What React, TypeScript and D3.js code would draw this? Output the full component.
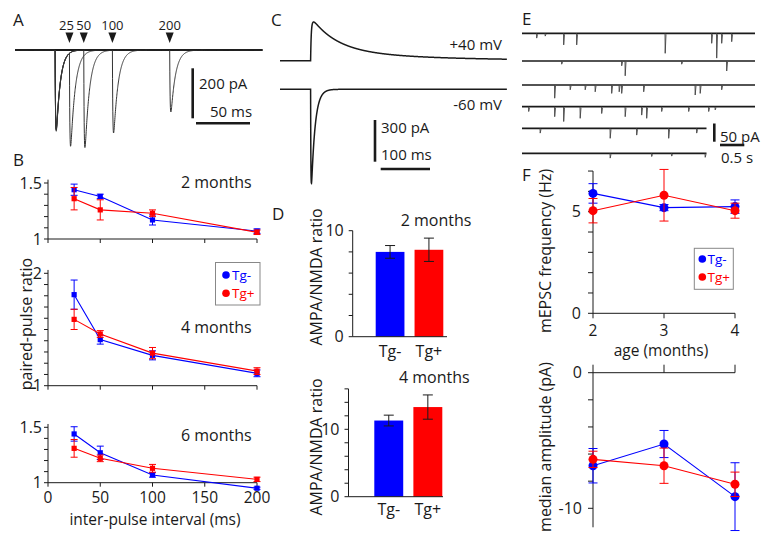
import React, { useEffect } from 'react';
import * as d3 from 'd3';

const FONT = '"Open Sans", "Noto Sans", sans-serif';
const BLUE = '#0000ff';
const RED = '#ff0000';
const INK = '#1a1a1a';

// ---------- B: paired-pulse ratio ----------
const intervals = [25, 50, 100, 200];
const intervalTicks = [0, 50, 100, 150, 200];
const ppr2Neg = [1.44, 1.38, 1.17, 1.07];
const ppr2NegErr = [0.05, 0.02, 0.045, 0.02];
const ppr2Pos = [1.36, 1.26, 1.23, 1.06];
const ppr2PosErr = [0.1, 0.09, 0.03, 0.02];
const ppr4Neg = [1.81, 1.41, 1.27, 1.11];
const ppr4NegErr = [0.13, 0.04, 0.04, 0.03];
const ppr4Pos = [1.59, 1.46, 1.29, 1.13];
const ppr4PosErr = [0.09, 0.03, 0.05, 0.03];
const ppr6Neg = [1.44, 1.27, 1.07, 0.95];
const ppr6NegErr = [0.065, 0.06, 0.02, 0.01];
const ppr6Pos = [1.31, 1.22, 1.13, 1.03];
const ppr6PosErr = [0.08, 0.03, 0.035, 0.02];

// ---------- D: AMPA/NMDA ----------
const genotypes = ['Tg-', 'Tg+'];
const ampaNmda2 = [8.0, 8.2];
const ampaNmda2Err = [0.6, 1.1];
const ampaNmda4 = [11.3, 13.3];
const ampaNmda4Err = [0.8, 1.8];

// ---------- F: mEPSC ----------
const ages = [2, 3, 4];
const freqNeg = [5.9, 5.2, 5.25];
const freqNegErr = [0.48, 0.15, 0.33];
const freqPos = [5.05, 5.81, 5.05];
const freqPosErr = [0.6, 1.27, 0.37];
const ampNeg = [-6.86, -5.26, -9.14];
const ampNegErr = [1.27, 1.0, 2.5];
const ampPos = [-6.39, -6.86, -8.23];
const ampPosErr = [0.6, 1.3, 0.9];

// ---------- A: paired-pulse sweeps (ms, pA) ----------
const sweepIntervals = [25, 50, 100, 200];
const sweepAmp1 = [320, 315, 325, 318];
const sweepAmp2 = [375, 390, 332, 248];

// ---------- C: evoked currents (pA, ms) ----------
const plus40Amps = [225, 75];
const plus40Taus = [50, 200];
const minus60Amp = 705;
const minus60Tau = 7.5;

// ---------- E: mEPSC events per sweep [time s, amplitude pA] ----------
const mepscRows: [number, number][][] = [
  [[0.29, 12], [0.46, 7], [0.83, 29], [1.09, 29], [2.86, 50], [3.79, 25], [3.89, 62], [3.99, 25], [4.19, 21]],
  [[0.79, 8], [1.99, 12], [2.06, 37], [3.19, 8], [4.09, 25]],
  [[0.65, 33], [0.96, 12], [1.26, 12], [1.46, 17], [1.79, 21], [1.94, 17], [1.99, 21], [2.43, 17], [3.46, 25], [3.56, 21], [3.99, 12]],
  [[0.13, 12], [0.65, 25], [0.83, 37], [1.16, 29], [1.59, 17], [2.06, 25], [2.39, 21], [2.49, 29], [2.79, 12], [3.33, 12], [3.73, 12], [3.86, 8]],
  [[0.36, 12], [1.76, 25], [2.29, 17], [2.93, 25], [3.49, 12]],
  [[1.76, 12], [2.59, 8], [2.99, 7], [3.66, 10]],
];
const mepscRowEnd = [4.66, 4.66, 4.66, 4.66, 3.69, 3.69];

function epsc(t: number, tr: number, td: number) {
  if (t <= 0) return 0;
  const tp = ((tr * td) / (td - tr)) * Math.log(td / tr);
  const norm = Math.exp(-tp / td) - Math.exp(-tp / tr);
  return (Math.exp(-t / td) - Math.exp(-t / tr)) / norm;
}

function ErrSeries({ x, y, xs, vals, errs, color, cap, marker }: any) {
  const line = d3.line<number>().x((_, i) => x(xs[i])).y((v) => y(v));
  return (
    <g>
      <path d={line(vals) || ''} fill="none" stroke={color} strokeWidth={1.1} />
      {vals.map((v: number, i: number) => {
        const cx = x(xs[i]);
        const y0 = y(v - errs[i]);
        const y1 = y(v + errs[i]);
        return (
          <g key={i} stroke={color} strokeWidth={1}>
            <line x1={cx} x2={cx} y1={y0} y2={y1} />
            <line x1={cx - cap} x2={cx + cap} y1={y0} y2={y0} />
            <line x1={cx - cap} x2={cx + cap} y1={y1} y2={y1} />
          </g>
        );
      })}
      {vals.map((v: number, i: number) =>
        marker === 'square' ? (
          <rect key={'m' + i} x={x(xs[i]) - 2.6} y={y(v) - 2.6} width={5.2} height={5.2} fill={color} />
        ) : (
          <circle key={'m' + i} cx={x(xs[i])} cy={y(v)} r={4.5} fill={color} />
        )
      )}
    </g>
  );
}

function PprPanel({ yOne, yRef, refVal, axisTop, neg, negErr, pos, posErr, labels, title, titleY, showX }: any) {
  const x = d3.scaleLinear().domain([0, 200]).range([48, 257]);
  const y = d3.scaleLinear().domain([1, refVal]).range([yOne, yRef]);
  const minor = d3.range(1, axisTop + 1e-6, 0.1);
  return (
    <g>
      <line x1={x(0)} x2={x(0)} y1={y(1)} y2={y(axisTop + 0.03)} stroke={INK} />
      {minor.map((t: number) => (
        <line key={t} x1={x(0) - 4} x2={x(0)} y1={y(t)} y2={y(t)} stroke={INK} />
      ))}
      {labels.map((t: number) => (
        <text key={t} x={42} y={y(t)} dy="0.35em" textAnchor="end" fontSize={16} fill={INK}>
          {t}
        </text>
      ))}
      <line x1={x(0)} x2={x(200)} y1={y(1)} y2={y(1)} stroke={INK} />
      {intervalTicks.map((t) => (
        <line key={t} x1={x(t)} x2={x(t)} y1={y(1)} y2={y(1) + 4} stroke={INK} />
      ))}
      {showX &&
        intervalTicks.map((t) => (
          <text key={'l' + t} x={x(t)} y={503} textAnchor="middle" fontSize={15.5} fill={INK}>
            {t}
          </text>
        ))}
      <text x={181} y={titleY} fontSize={16} fill={INK}>
        {title}
      </text>
      <ErrSeries x={x} y={y} xs={intervals} vals={neg} errs={negErr} color={BLUE} cap={3.5} marker="square" />
      <ErrSeries x={x} y={y} xs={intervals} vals={pos} errs={posErr} color={RED} cap={3.5} marker="square" />
    </g>
  );
}

function PanelB() {
  return (
    <g>
      <PprPanel yOne={239} yRef={183} refVal={1.5} axisTop={1.5} neg={ppr2Neg} negErr={ppr2NegErr} pos={ppr2Pos} posErr={ppr2PosErr} labels={[1, 1.5]} title="2 months" titleY={188} />
      <PprPanel yOne={385.7} yRef={273.3} refVal={2} axisTop={2} neg={ppr4Neg} negErr={ppr4NegErr} pos={ppr4Pos} posErr={ppr4PosErr} labels={[1, 2]} title="4 months" titleY={333} />
      <PprPanel yOne={482.7} yRef={427.3} refVal={1.5} axisTop={1.5} neg={ppr6Neg} negErr={ppr6NegErr} pos={ppr6Pos} posErr={ppr6PosErr} labels={[1, 1.5]} title="6 months" titleY={441} showX />
      <text x={155} y={525} textAnchor="middle" fontSize={15.5} fill={INK}>
        inter-pulse interval (ms)
      </text>
      <text transform="translate(32,324) rotate(-90)" textAnchor="middle" fontSize={16} fill={INK}>
        paired-pulse ratio
      </text>
      <rect x={215.5} y={262.5} width={44.5} height={42.5} fill="#fff" stroke="#888" />
      <circle cx={226} cy={275} r={3.8} fill={BLUE} />
      <text x={232} y={275} dy="0.35em" fontSize={13.5} fill={BLUE}>Tg-</text>
      <circle cx={226} cy={293.3} r={3.8} fill={RED} />
      <text x={232} y={293.3} dy="0.35em" fontSize={13.5} fill={RED}>Tg+</text>
    </g>
  );
}

function BarPanel({ axisX, xEnd, barLeft, barRight, y0, y10, axisTop, tickStep, vals, errs, title, titleX, titleY, tgY, labelY }: any) {
  const y = d3.scaleLinear().domain([0, 10]).range([y0, y10]);
  const x = d3.scaleBand<string>().domain(genotypes).range([barLeft, barRight]).paddingInner(0.26);
  const ticks = d3.range(0, axisTop + 1e-6, tickStep);
  return (
    <g>
      <line x1={axisX} x2={axisX} y1={y(0)} y2={y(axisTop)} stroke={INK} />
      {ticks.map((t: number) => (
        <line key={t} x1={axisX - 4} x2={axisX} y1={y(t)} y2={y(t)} stroke={INK} />
      ))}
      {[0, 10].map((t) => (
        <text key={t} x={axisX - 9} y={y(t)} dy="0.35em" textAnchor="end" fontSize={16} fill={INK}>
          {t}
        </text>
      ))}
      {genotypes.map((g, i) => (
        <rect key={g} x={x(g)} y={y(vals[i])} width={x.bandwidth()} height={y(0) - y(vals[i])} fill={i === 0 ? BLUE : RED} />
      ))}
      <line x1={axisX} x2={xEnd} y1={y(0)} y2={y(0)} stroke={INK} />
      {genotypes.map((g, i) => {
        const cx = (x(g) as number) + x.bandwidth() / 2;
        const a = y(vals[i] - errs[i]);
        const b = y(vals[i] + errs[i]);
        return (
          <g key={'e' + g} stroke={INK} strokeWidth={1}>
            <line x1={cx} x2={cx} y1={a} y2={b} />
            <line x1={cx - 5} x2={cx + 5} y1={a} y2={a} />
            <line x1={cx - 5} x2={cx + 5} y1={b} y2={b} />
          </g>
        );
      })}
      {genotypes.map((g) => (
        <text key={'t' + g} x={(x(g) as number) + x.bandwidth() / 2} y={tgY} textAnchor="middle" fontSize={16} fill={INK}>
          {g}
        </text>
      ))}
      <text x={titleX} y={titleY} fontSize={16} fill={INK}>
        {title}
      </text>
      <text transform={`translate(322,${labelY}) rotate(-90)`} textAnchor="middle" fontSize={16} fill={INK}>
        AMPA/NMDA ratio
      </text>
    </g>
  );
}

function PanelD() {
  return (
    <g>
      <BarPanel axisX={352.7} xEnd={447} barLeft={375.7} barRight={443.3} y0={336.7} y10={230.7} axisTop={10} tickStep={2} vals={ampaNmda2} errs={ampaNmda2Err} title="2 months" titleX={400.7} titleY={225.7} tgY={357} labelY={277} />
      <BarPanel axisX={348.5} xEnd={443} barLeft={374.3} barRight={442.3} y0={496.7} y10={429.3} axisTop={16} tickStep={2} vals={ampaNmda4} errs={ampaNmda4Err} title="4 months" titleX={399} titleY={383.3} tgY={515} labelY={447} />
    </g>
  );
}

function PanelF() {
  const x = d3.scaleLinear().domain([2, 4]).range([593, 735]);
  const yF = d3.scaleLinear().domain([0, 5]).range([313.3, 211.7]);
  const yA = d3.scaleLinear().domain([0, -10]).range([372.7, 508.3]);
  return (
    <g>
      {/* frequency */}
      <line x1={x(2)} x2={x(2)} y1={yF(0)} y2={yF(7)} stroke={INK} />
      {d3.range(0, 8).map((t) => (
        <line key={t} x1={x(2) - 5} x2={x(2)} y1={yF(t)} y2={yF(t)} stroke={INK} />
      ))}
      {[0, 5].map((t) => (
        <text key={t} x={581} y={yF(t)} dy="0.35em" textAnchor="end" fontSize={16} fill={INK}>{t}</text>
      ))}
      <line x1={x(2)} x2={x(4)} y1={yF(0)} y2={yF(0)} stroke={INK} />
      {ages.map((a) => (
        <line key={a} x1={x(a)} x2={x(a)} y1={yF(0)} y2={yF(0) + 5} stroke={INK} />
      ))}
      {ages.map((a) => (
        <text key={'l' + a} x={x(a)} y={335.5} textAnchor="middle" fontSize={15.5} fill={INK}>{a}</text>
      ))}
      <text x={661} y={356} textAnchor="middle" fontSize={15.5} fill={INK}>age (months)</text>
      <text transform="translate(551,251) rotate(-90)" textAnchor="middle" fontSize={16} fill={INK}>
        mEPSC frequency (Hz)
      </text>
      <ErrSeries x={x} y={yF} xs={ages} vals={freqNeg} errs={freqNegErr} color={BLUE} cap={4.5} marker="circle" />
      <ErrSeries x={x} y={yF} xs={ages} vals={freqPos} errs={freqPosErr} color={RED} cap={4.5} marker="circle" />
      <rect x={694.3} y={248.3} width={39} height={41} fill="#fff" stroke="#888" />
      <circle cx={702.3} cy={259} r={3.8} fill={BLUE} />
      <text x={707.5} y={259} dy="0.35em" fontSize={13.5} fill={BLUE}>Tg-</text>
      <circle cx={702.3} cy={277} r={3.8} fill={RED} />
      <text x={707.5} y={277} dy="0.35em" fontSize={13.5} fill={RED}>Tg+</text>

      {/* amplitude */}
      <line x1={x(2)} x2={x(2)} y1={yA(0)} y2={yA(-11.4)} stroke={INK} />
      {d3.range(0, -11, -2).map((t) => (
        <line key={t} x1={x(2) - 5} x2={x(2)} y1={yA(t)} y2={yA(t)} stroke={INK} />
      ))}
      {[0, -10].map((t) => (
        <text key={t} x={582} y={yA(t)} dy="0.35em" textAnchor="end" fontSize={16} fill={INK}>{t}</text>
      ))}
      <line x1={x(2)} x2={x(4)} y1={yA(0)} y2={yA(0)} stroke={INK} />
      {ages.map((a) => (
        <line key={a} x1={x(a)} x2={x(a)} y1={yA(0)} y2={yA(0) - 8} stroke={INK} />
      ))}
      <text transform="translate(551,447) rotate(-90)" textAnchor="middle" fontSize={16} fill={INK}>
        median amplitude (pA)
      </text>
      <ErrSeries x={x} y={yA} xs={ages} vals={ampNeg} errs={ampNegErr} color={BLUE} cap={4.5} marker="circle" />
      <ErrSeries x={x} y={yA} xs={ages} vals={ampPos} errs={ampPosErr} color={RED} cap={4.5} marker="circle" />
    </g>
  );
}

function PanelA() {
  const x = d3.scaleLinear().domain([-70, 362]).range([15, 262.5]);
  const y = d3.scaleLinear().domain([0, -400]).range([50, 150]);
  const ts = d3.range(-70, 362, 0.25);
  const line = d3.line<[number, number]>().x((d) => x(d[0])).y((d) => y(d[1]));
  return (
    <g>
      <line x1={x(-70)} x2={x(362)} y1={y(0)} y2={y(0)} stroke={INK} strokeWidth={1.9} />
      {sweepIntervals.map((iv, k) => {
        const pts = ts.map((t) => [t, -sweepAmp1[k] * epsc(t, 0.8, 7) - sweepAmp2[k] * epsc(t - iv, 0.8, 8)] as [number, number]);
        return <path key={iv} d={line(pts) || ''} fill="none" stroke="#333" strokeWidth={1} />;
      })}
      {sweepIntervals.map((iv) => (
        <g key={'a' + iv}>
          <path d={`M${x(iv) - 4},32.5 L${x(iv) + 4},32.5 L${x(iv)},43 Z`} fill={INK} />
          <text x={x(iv) - (iv === 25 ? 3 : 0)} y={30} textAnchor="middle" fontSize={13} fill={INK}>{iv}</text>
        </g>
      ))}
      <line x1={192.7} x2={192.7} y1={68.3} y2={118.3} stroke={INK} strokeWidth={2.6} />
      <text x={199} y={89} fontSize={15} fill={INK}>200 pA</text>
      <line x1={196} x2={250} y1={123.3} y2={123.3} stroke={INK} strokeWidth={2.6} />
      <text x={210} y={117} fontSize={15} fill={INK}>50 ms</text>
    </g>
  );
}

function PanelC() {
  const x = d3.scaleLinear().domain([0, 460]).range([280, 507]);
  const yPlus = d3.scaleLinear().domain([0, 300]).range([60.7, 20.7]);
  const yMinus = d3.scaleLinear().domain([0, -300]).range([89.3, 129.3]);
  const onset = 62;
  const ts = d3.range(0, 460, 0.25);
  const plus = ts.map((t) => [t, plus40Amps[0] * epsc(t - onset, 1.2, plus40Taus[0]) + plus40Amps[1] * epsc(t - onset, 3, plus40Taus[1])] as [number, number]);
  const minus = ts.map((t) => [t, -minus60Amp * epsc(t - onset, 0.6, minus60Tau)] as [number, number]);
  const lp = d3.line<[number, number]>().x((d) => x(d[0])).y((d) => yPlus(d[1]));
  const lm = d3.line<[number, number]>().x((d) => x(d[0])).y((d) => yMinus(d[1]));
  return (
    <g>
      <path d={lp(plus) || ''} fill="none" stroke={INK} strokeWidth={1.5} />
      <path d={lm(minus) || ''} fill="none" stroke={INK} strokeWidth={1.5} />
      <text x={502} y={50} textAnchor="end" fontSize={15} fill={INK}>+40 mV</text>
      <text x={502} y={110} textAnchor="end" fontSize={15} fill={INK}>-60 mV</text>
      <line x1={375} x2={375} y1={120} y2={161.7} stroke={INK} strokeWidth={2.6} />
      <text x={381} y={133} fontSize={15} fill={INK}>300 pA</text>
      <line x1={380.7} x2={430} y1={169} y2={169} stroke={INK} strokeWidth={2.6} />
      <text x={381} y={160} fontSize={15} fill={INK}>100 ms</text>
    </g>
  );
}

function PanelE() {
  const x = d3.scaleLinear().domain([0, 4.66]).range([522, 755]);
  const rowY = [33.3, 61, 85, 106.7, 128.3, 153.3];
  const ampPx = 0.4;
  return (
    <g>
      {mepscRows.map((ev, r) => (
        <g key={r}>
          <line x1={x(0)} x2={x(mepscRowEnd[r])} y1={rowY[r]} y2={rowY[r]} stroke={INK} strokeWidth={1.7} />
          {ev.map(([t, a], i) => (
            <path key={i} d={`M${x(t)},${rowY[r]} L${x(t) + 0.2},${rowY[r] + a * ampPx} L${x(t) + 1},${rowY[r] + 1}`} fill="none" stroke="#444" strokeWidth={0.9} />
          ))}
        </g>
      ))}
      <line x1={714.3} x2={714.3} y1={123.5} y2={141.7} stroke={INK} strokeWidth={2.6} />
      <text x={720} y={141.5} fontSize={15} fill={INK}>50 pA</text>
      <line x1={720} x2={744.3} y1={145} y2={145} stroke={INK} strokeWidth={2.6} />
      <text x={721} y={163} fontSize={15} fill={INK}>0.5 s</text>
    </g>
  );
}

export default function App() {
  useEffect(() => {
    document.body.style.margin = '0';
  }, []);
  return (
    <svg width={762} height={534} style={{ display: 'block', background: '#fff' }} fontFamily={FONT}>
      <PanelA />
      <PanelB />
      <PanelC />
      <PanelD />
      <PanelE />
      <PanelF />
      <g fontSize={17} fill={INK}>
        <text x={13} y={26}>A</text>
        <text x={13} y={166}>B</text>
        <text x={271} y={26}>C</text>
        <text x={272} y={220}>D</text>
        <text x={522} y={25}>E</text>
        <text x={522} y={181}>F</text>
      </g>
    </svg>
  );
}
